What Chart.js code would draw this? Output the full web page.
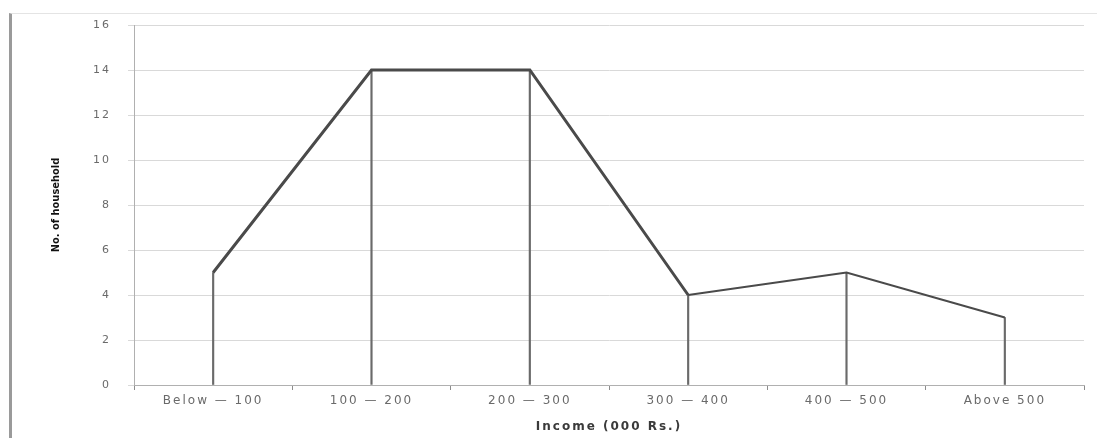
<!DOCTYPE html>
<html>
<head>
<meta charset="utf-8">
<script src="https://cdn.jsdelivr.net/npm/chart.js@4"></script>
<style>
  html, body { margin: 0; padding: 0; background: #fff; }
  #wrap { position: relative; width: 1097px; height: 438px; }
  #frame { position: absolute; left: 9px; top: 13px; width: 1088px; height: 425px;
           border-left: 3px solid #9a9a9a; border-top: 1px solid #e4e4e4; box-sizing: border-box; }
  canvas { position: absolute; left: 0; top: 0; }
</style>
</head>
<body>
<div id="wrap">
  <div id="frame"></div>
  <canvas id="chart" width="1097" height="438"></canvas>
</div>
<script>
// categorias e valores
const incomeGroups = ['Below \u2014 100', '100 \u2014 200', '200 \u2014 300', '300 \u2014 400', '400 \u2014 500', 'Above 500'];
const households = [5, 14, 14, 4, 5, 3];
const yTicks = [0, 2, 4, 6, 8, 10, 12, 14, 16];

// espaçamento entre letras, como no original
const spacing = {
    id: 'spacing',
    beforeDraw(chart) { chart.ctx.letterSpacing = '2px'; }
};

const ctx = document.getElementById('chart');
new Chart(ctx, {
    data: {
        labels: incomeGroups,
        datasets: [
            {
                type: 'line',
                data: households,
                borderColor: '#4a4a4a',
                borderWidth: 2.5,
                segment: {
                    borderWidth: c => c.p0DataIndex < 3 ? 3 : 2
                },
                pointRadius: 0,
                tension: 0,
                fill: false,
                order: 1
            },
            {
                // linhas verticais até o eixo
                type: 'bar',
                data: households,
                backgroundColor: '#6a6a6a',
                barThickness: 1.5,
                order: 2
            }
        ]
    },
    options: {
        responsive: false,
        animation: false,
        devicePixelRatio: 1,
        layout: { padding: { left: 0, right: 13, top: 25, bottom: 0 } },
        plugins: { legend: { display: false }, tooltip: { enabled: false } },
        scales: {
            x: {
                offset: true,
                grid: { offset: true, drawOnChartArea: false, color: '#8c8c8c', tickLength: 5 },
                border: { color: '#b0b0b0' },
                ticks: { color: '#6a6a6a', font: { family: 'DejaVu Sans', size: 12 }, padding: 4, maxRotation: 0 },
                title: { display: true, text: 'Income (000 Rs.)', color: '#3a3a3a',
                         font: { family: 'DejaVu Sans', size: 12, weight: 'bold' }, padding: { top: 1 } },
                afterFit: (axis) => { axis.height = 53; }
            },
            y: {
                min: 0,
                max: 16,
                afterBuildTicks: (axis) => { axis.ticks = yTicks.map(v => ({ value: v })); },
                grid: { color: '#d9d9d9', tickLength: 6 },
                border: { color: '#b0b0b0' },
                ticks: { color: '#6a6a6a', font: { family: 'DejaVu Sans', size: 11 }, padding: 17 },
                title: { display: true, text: 'No. of household', color: '#111',
                         font: { family: "'Liberation Sans Narrow', 'DejaVu Sans Condensed', sans-serif", size: 11, weight: 'bold' },
                         padding: { top: 50, bottom: 0 } },
                afterFit: (axis) => {
                    axis.width = 134;
                    // título do eixo y sem espaçamento extra
                    if (!axis._tituloOk) {
                        const orig = axis.drawTitle;
                        axis.drawTitle = function () {
                            this.ctx.letterSpacing = '0px';
                            orig.call(this);
                            this.ctx.letterSpacing = '2px';
                        };
                        axis._tituloOk = true;
                    }
                }
            }
        }
    },
    plugins: [spacing]
});
</script>
</body>
</html>
